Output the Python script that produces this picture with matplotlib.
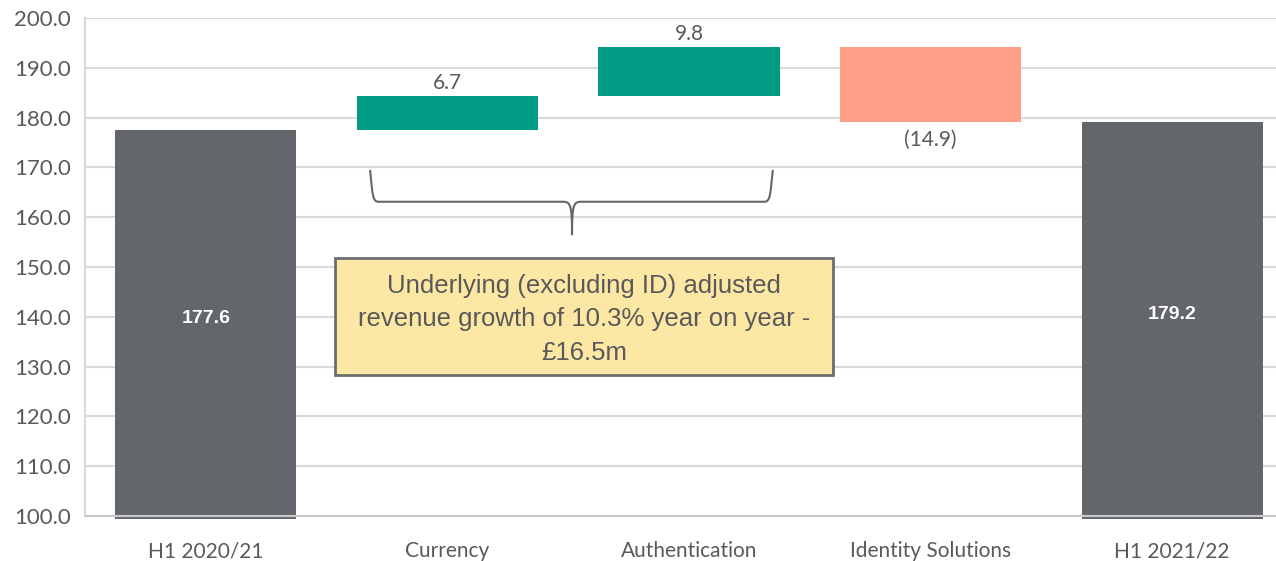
import matplotlib.pyplot as plt
from matplotlib.path import Path
from matplotlib.patches import PathPatch, Rectangle

# Data
categories = ['H1 2020/21', 'Currency', 'Authentication', 'Identity Solutions', 'H1 2021/22']
start_value = 177.6
changes = [6.7, 9.8, -14.9]
end_value = 179.2
box_text = 'Underlying (excluding ID) adjusted\nrevenue growth of 10.3% year on year -\n£16.5m'

grey = '#63666A'
green = '#009B82'
salmon = '#FF9F88'
text_grey = '#595959'
font = 'Lato'

fig = plt.figure(figsize=(12.76, 5.61), dpi=100)
ax = fig.add_axes([85 / 1276, 1 - 516 / 561, 1 - 85 / 1276, (516 - 18) / 561])

width = 0.75
base = 99.4

# totals
for i, v in [(0, start_value), (4, end_value)]:
    ax.bar(i, v - base, bottom=base, width=width, color=grey, clip_on=False, zorder=3)
    ax.text(i, (100 + v) / 2 + 0.8, f'{v:.1f}', ha='center', va='center',
            color='white', fontsize=14, fontweight='bold', family='Liberation Sans', zorder=4)

# steps
level = start_value
for k, c in enumerate(changes):
    i = k + 1
    col = green if c > 0 else salmon
    lo = level if c > 0 else level + c
    ax.bar(i, abs(c), bottom=lo, width=width, color=col, zorder=3)
    if c > 0:
        ax.text(i, lo + abs(c) + 0.6, f'{c:.1f}', ha='center', va='bottom',
                color=text_grey, fontsize=15, family=font)
    else:
        ax.text(i, lo - 1.6, f'({abs(c):.1f})', ha='center', va='top',
                color=text_grey, fontsize=15, family=font)
    level += c

ax.set_xlim(-0.5, 4.43)
ax.set_ylim(100, 200)
ax.set_yticks(range(100, 201, 10))
ax.set_yticklabels([f'{t:.1f}' for t in range(100, 201, 10)])
ax.set_xticks(range(len(categories)))
ax.set_xticklabels(categories)
ax.tick_params(length=0, colors=text_grey)
ax.tick_params(axis='x', pad=18, labelsize=15)
ax.tick_params(axis='y', pad=10, labelsize=16)
for lab in ax.get_xticklabels() + ax.get_yticklabels():
    lab.set_family(font)
ax.grid(axis='y', color='#D9D9D9', linewidth=1.5, zorder=0)
ax.set_axisbelow(True)
for s in ['top', 'right']:
    ax.spines[s].set_visible(False)
ax.spines['left'].set_color('#D9D9D9')
ax.spines['left'].set_linewidth(1.5)
ax.spines['bottom'].set_color('#C8C8C8')
ax.spines['bottom'].set_linewidth(1.5)
ax.spines['bottom'].set_zorder(5)

# brace
x0, x1, xm = 0.68, 2.347, 1.516
ytop, yh, ytip = 169.5, 163.1, 156.4
dx = 0.035
verts = [
    (x0, ytop), (x0 + 0.01, yh + 1.5), (x0 + 0.01, yh), (x0 + dx, yh),
    (xm - dx, yh), (xm - 0.005, yh), (xm, yh - 1.0), (xm, ytip),
    (xm, yh - 1.0), (xm + 0.005, yh), (xm + dx, yh),
    (x1 - dx, yh), (x1 - 0.01, yh), (x1 - 0.01, yh + 1.5), (x1, ytop),
]
codes = [Path.MOVETO, Path.CURVE4, Path.CURVE4, Path.CURVE4,
         Path.LINETO, Path.CURVE4, Path.CURVE4, Path.CURVE4,
         Path.CURVE4, Path.CURVE4, Path.CURVE4,
         Path.LINETO, Path.CURVE4, Path.CURVE4, Path.CURVE4]
ax.add_patch(PathPatch(Path(verts, codes), fill=False, edgecolor=grey, linewidth=1.5, zorder=4))

# annotation box
bx0, bx1, by0, by1 = 0.535, 2.595, 128.3, 151.8
ax.add_patch(Rectangle((bx0, by0), bx1 - bx0, by1 - by0, facecolor='#FCE69F',
                       edgecolor=grey, linewidth=2, alpha=0.95, zorder=4))
ax.text((bx0 + bx1) / 2, (by0 + by1) / 2 - 0.5, box_text, ha='center', va='center',
        color=text_grey, fontsize=18.5, family='Liberation Sans', linespacing=1.5, zorder=5)

fig.savefig('out.png', dpi=100)
